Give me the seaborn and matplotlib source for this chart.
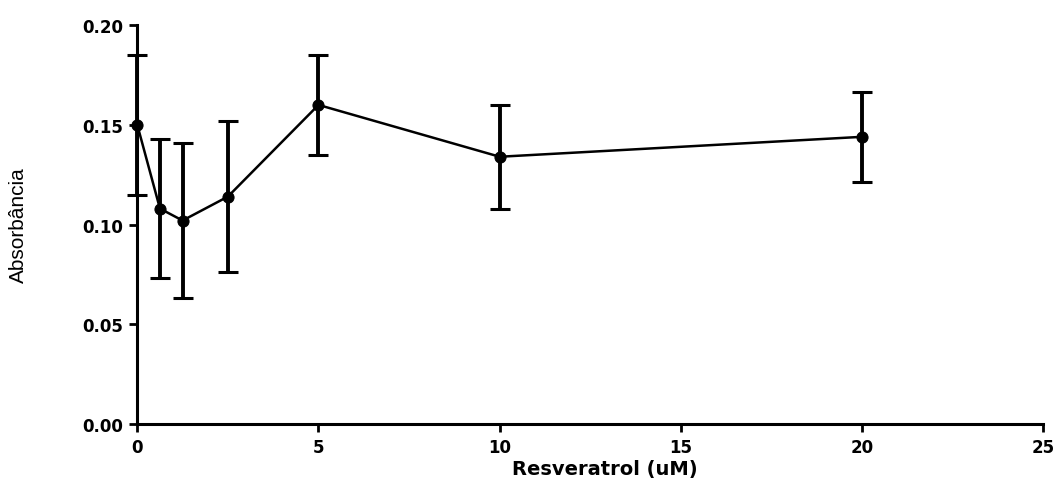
import numpy as np
import pandas as pd
import matplotlib
matplotlib.use("Agg")
import matplotlib.pyplot as plt
import seaborn as sns

# Resveratrol dose (uM) vs absorbance, mean +/- error
dose = [0, 0.625, 1.25, 2.5, 5, 10, 20]
absorb = [0.150, 0.108, 0.102, 0.114, 0.160, 0.134, 0.144]
err = [0.035, 0.035, 0.039, 0.038, 0.025, 0.026, 0.0225]

df = pd.DataFrame({"dose": dose, "abs": absorb, "err": err})

sns.set_style("ticks")
plt.rcParams['font.family'] = ['DejaVu Sans']
plt.rcParams['text.color'] = 'black'
plt.rcParams['axes.labelcolor'] = 'black'

fig = plt.figure(figsize=(10.56, 4.85), dpi=100)
ax = fig.add_axes([0.130, 0.124, 0.858, 0.822])

eb = ax.errorbar(df["dose"], df["abs"], yerr=df["err"], fmt="none",
                 ecolor="black", elinewidth=2.8, capsize=7, capthick=2.2, zorder=2)
for part in eb.lines[1] + eb.lines[2]:
    part.set_clip_on(False)
sns.lineplot(data=df, x="dose", y="abs", ax=ax, color="black", linewidth=1.8,
             marker="o", markersize=8, markeredgecolor="black", zorder=3,
             clip_on=False)

ax.set_xlim(0, 25)
ax.set_ylim(0, 0.20)
ax.set_xticks([0, 5, 10, 15, 20, 25])
ax.set_yticks([0.00, 0.05, 0.10, 0.15, 0.20])
ax.yaxis.set_major_formatter(matplotlib.ticker.FormatStrFormatter("%.2f"))

for s in ["top", "right"]:
    ax.spines[s].set_visible(False)
for s in ["left", "bottom"]:
    ax.spines[s].set_linewidth(2.2)
    ax.spines[s].set_color("black")
ax.tick_params(width=2, length=6, pad=4, colors="black", labelsize=12)
for lab in ax.get_xticklabels() + ax.get_yticklabels():
    lab.set_fontweight("bold")

ax.set_xlabel("Resveratrol (uM)", fontsize=14, fontweight="bold")
ax.xaxis.set_label_coords(0.516, -0.088)
ax.set_ylabel("Absorbância", fontsize=15, family=['Liberation Sans', 'DejaVu Sans'])
ax.yaxis.set_label_coords(-0.121, 0.5)

fig.savefig("out.png", dpi=100)
